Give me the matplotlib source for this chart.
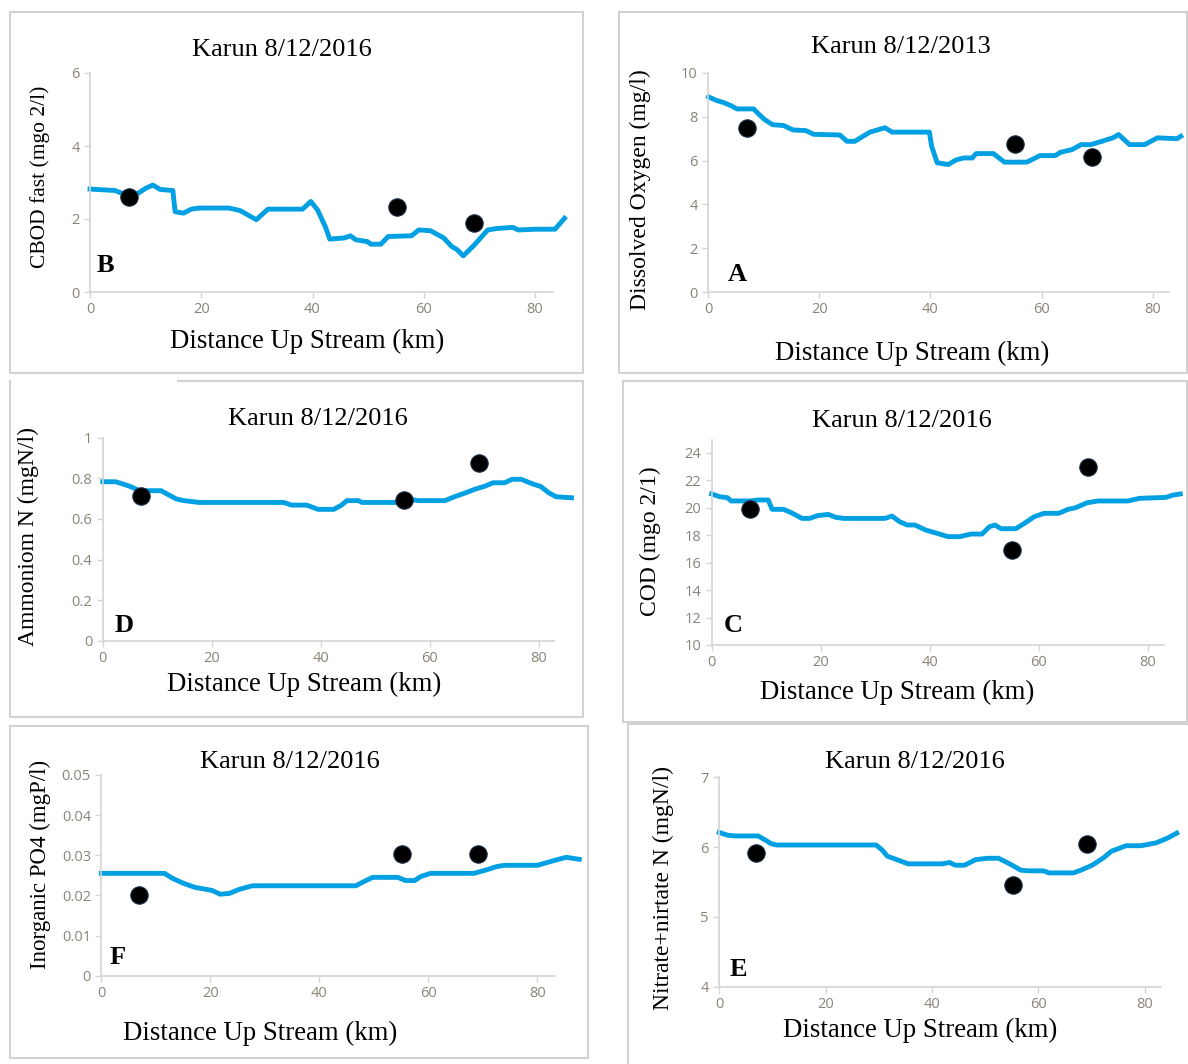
import numpy as np
import matplotlib
matplotlib.use('Agg')
import matplotlib.pyplot as plt
from matplotlib.lines import Line2D

W, H = 1188, 1064

# measured stations (km) shared by all panels
station_km = [7.0, 55.2, 69.1]

# B - CBOD fast
cbod_x = [0, 4.5, 6.5, 8.6, 10, 11.3, 12.6, 14.9, 15.3, 16.8, 18.2, 19.6, 25, 27, 29.9, 32, 38.2,
          39.7, 40.9, 42.3, 43.1, 45.7, 46.8, 47.8, 49.9, 50.5, 52.3, 53.6, 57.8, 59.1, 61.2, 63.6,
          65, 66, 67.1, 69.1, 71.5, 73.2, 76, 77, 80.1, 83.6, 85.3]
cbod_y = [2.82, 2.78, 2.66, 2.70, 2.84, 2.93, 2.81, 2.78, 2.20, 2.16, 2.27, 2.30, 2.30, 2.23, 1.98,
          2.27, 2.27, 2.48, 2.25, 1.79, 1.45, 1.48, 1.54, 1.43, 1.38, 1.31, 1.31, 1.52, 1.54, 1.70,
          1.68, 1.48, 1.25, 1.16, 0.99, 1.29, 1.70, 1.74, 1.77, 1.70, 1.72, 1.72, 2.02]
cbod_obs = [2.6, 2.34, 1.89]

# A - dissolved oxygen
do_x = [0.1, 1.5, 2.8, 4.2, 5.2, 8.2, 9.2, 10.2, 11.6, 13.6, 15.3, 17.6, 19, 23.7, 25, 26.4, 29.1,
        31.8, 33.1, 39.8, 40.2, 41.2, 43.2, 44.5, 45.9, 47.5, 48.2, 51.3, 53.3, 57.3, 59.7, 62.4,
        63.4, 65.4, 67.1, 68.8, 70.8, 72.8, 73.8, 74.8, 75.8, 78.5, 80.2, 80.8, 84.3, 85]
do_y = [8.91, 8.75, 8.65, 8.5, 8.36, 8.36, 8.1, 7.87, 7.64, 7.6, 7.4, 7.37, 7.2, 7.17, 6.88, 6.88,
        7.3, 7.5, 7.3, 7.3, 6.66, 5.9, 5.82, 6.02, 6.12, 6.12, 6.32, 6.32, 5.93, 5.93, 6.23, 6.23,
        6.38, 6.5, 6.73, 6.73, 6.88, 7.04, 7.19, 6.96, 6.73, 6.73, 6.96, 7.04, 7.0, 7.11]
do_obs = [7.49, 6.78, 6.17]

# D - ammonium
nh4_x = [0, 2.3, 3.7, 5.1, 6.5, 7.9, 10.7, 12.1, 13.5, 14.9, 17.7, 33.2, 34.6, 37.4, 39.5, 42.4,
         43.8, 44.8, 46.9, 47.6, 55, 56.4, 57.9, 62.8, 64.5, 66.3, 68.4, 70.2, 71.6, 73.7, 75.1,
         76.8, 78.6, 80.4, 81.8, 83.2, 86]
nh4_y = [0.783, 0.783, 0.772, 0.759, 0.742, 0.739, 0.739, 0.718, 0.698, 0.690, 0.681, 0.681, 0.668,
         0.668, 0.647, 0.647, 0.668, 0.690, 0.690, 0.681, 0.681, 0.696, 0.690, 0.690, 0.709, 0.726,
         0.747, 0.762, 0.778, 0.778, 0.795, 0.795, 0.775, 0.759, 0.729, 0.709, 0.704]
nh4_obs = [0.713, 0.693, 0.874]

# C - COD
cod_x = [0, 1.5, 2.9, 3.6, 7, 8.4, 10.4, 11.1, 13.2, 14.6, 16.6, 18, 19.4, 21.4, 22.8, 24.2, 31.8,
         33.1, 34.5, 35.9, 37.3, 39.3, 41.4, 43.4, 45.5, 47.6, 49.6, 51, 52, 53.1, 55.8, 57.2, 59.2,
         61, 63.7, 65.4, 66.8, 68.9, 70.9, 76.4, 78.5, 83.3, 84.7, 86]
cod_y = [21.0, 20.8, 20.73, 20.49, 20.49, 20.56, 20.56, 19.88, 19.88, 19.64, 19.22, 19.22, 19.42,
         19.51, 19.3, 19.22, 19.22, 19.39, 18.98, 18.74, 18.74, 18.37, 18.13, 17.89, 17.89, 18.08,
         18.08, 18.62, 18.74, 18.47, 18.47, 18.81, 19.34, 19.59, 19.59, 19.88, 20.0, 20.36, 20.49,
         20.49, 20.68, 20.75, 20.92, 21.0]
cod_obs = [19.88, 16.94, 22.93]

# F - inorganic PO4
po4_x = [0, 11.6, 13, 15.1, 17.2, 19.3, 20.4, 21.8, 23.5, 25.3, 27.7, 46.7, 48.1, 49.8, 54.4, 55.8,
         57.5, 58.6, 60.4, 68.4, 70.5, 72.6, 74, 80, 81.8, 83.9, 85.3, 87.7]
po4_y = [0.0255, 0.0255, 0.0243, 0.0230, 0.0220, 0.0215, 0.0212, 0.0203, 0.0205, 0.0215, 0.0224,
         0.0224, 0.0234, 0.0245, 0.0245, 0.0237, 0.0237, 0.0247, 0.0255, 0.0255, 0.0263, 0.0272,
         0.0275, 0.0275, 0.0282, 0.0290, 0.0295, 0.0290]
po4_obs = [0.0202, 0.0303, 0.0303]

# E - nitrate + nitrite
no3_x = [0, 1.6, 3, 7.3, 8.7, 9.7, 10.8, 29.5, 30.6, 31.6, 33.4, 35.5, 41.9, 43.3, 44.4, 46.1, 48.2,
         50.4, 52.5, 54.6, 56.7, 58.1, 61, 62, 66.6, 68, 70.1, 72.3, 73.7, 75.1, 76.5, 79.3, 82.1,
         84.3, 86]
no3_y = [6.21, 6.17, 6.16, 6.16, 6.10, 6.05, 6.03, 6.03, 5.96, 5.87, 5.82, 5.76, 5.76, 5.78, 5.74,
         5.74, 5.82, 5.84, 5.84, 5.76, 5.67, 5.66, 5.66, 5.63, 5.63, 5.67, 5.74, 5.85, 5.94, 5.98,
         6.02, 6.02, 6.06, 6.13, 6.20]
no3_obs = [5.91, 5.46, 6.05]

LINE_C = '#00a0e3'
SERIF = 'Liberation Serif'
TICK_C = '#8a8478'
AX_C = '#d4d4d4'
BOX_C = '#d2d2d2'


def fx(px):
    return px / W


def fy(py):
    return 1 - py / H


fig = plt.figure(figsize=(W / 100, H / 100), dpi=100)
fig.patch.set_facecolor('white')


def box(x0, y0, x1, y1, top_from=None):
    xs = [x0, x1, x1, x0, x0]
    ys = [y0, y0, y1, y1, y0]
    fig.add_artist(Line2D([fx(v) for v in xs[1:]], [fy(v) for v in ys[1:]],
                          color=BOX_C, lw=1.5, transform=fig.transFigure))
    tx0 = x0 if top_from is None else top_from
    fig.add_artist(Line2D([fx(tx0), fx(x1)], [fy(y0), fy(y0)],
                          color=BOX_C, lw=1.5, transform=fig.transFigure))


def panel(rect, xend, ylim, yticks, x, y, obs, title, tpos, xlabel_pos, ylabel, ypos, yfs,
          letter, lpos):
    left, right, top, bottom = rect
    ax = fig.add_axes([fx(left), fy(bottom), (right - left) / W, (bottom - top) / H])
    ax.set_facecolor('none')
    ax.plot(x, y, color=LINE_C, lw=3.5, clip_on=False, zorder=2)
    ax.plot(station_km, obs, 'o', color='black', ms=12.5, mec='#1a2a40', mew=0.8,
            clip_on=False, zorder=3)
    ax.set_xlim(0, xend)
    ax.set_ylim(*ylim)
    ax.set_xticks([0, 20, 40, 60, 80])
    ax.set_yticks(yticks)
    ax.set_yticklabels([f'{v:g}' for v in yticks])
    for s in ['top', 'right']:
        ax.spines[s].set_visible(False)
    for s in ['left', 'bottom']:
        ax.spines[s].set_color(AX_C)
        ax.spines[s].set_linewidth(1.2)
    ax.tick_params(colors=AX_C, length=4, width=1, labelcolor=TICK_C, labelsize=10.5)
    for lab in ax.get_xticklabels() + ax.get_yticklabels():
        lab.set_family('Open Sans')
    fig.text(fx(tpos[0]), fy(tpos[1]), title, family=SERIF, fontsize=19,
             ha='center', va='center')
    fig.text(fx(xlabel_pos[0]), fy(xlabel_pos[1]), 'Distance Up Stream (km)', family=SERIF,
             fontsize=19.3, ha='center', va='center')
    fig.text(fx(ypos[0]), fy(ypos[1]), ylabel, family=SERIF, fontsize=yfs, rotation=90,
             ha='center', va='center')
    fig.text(fx(lpos[0]), fy(lpos[1]), letter, family=SERIF, fontsize=19, weight='bold',
             ha='center', va='center')
    return ax


# panel frames
box(10, 12, 583, 373)
box(619, 12, 1187, 373)
box(10, 381, 583, 717, top_from=178)
box(623, 381, 1187, 722)
box(10, 726, 588, 1058)
fig.add_artist(Line2D([fx(628), fx(628), fx(1187)], [fy(1064), fy(724), fy(724)],
                      color=BOX_C, lw=1.5, transform=fig.transFigure))

panel((90, 90 + 83.2 * 5.5625, 73, 292), 83.2, (0, 6), [0, 2, 4, 6], cbod_x, cbod_y, cbod_obs,
      'Karun 8/12/2016', (282, 50), (307, 341), 'CBOD fast (mgo 2/l)', (40, 177), 15.5,
      'B', (105, 265))
panel((708, 708 + 82.9 * 5.5625, 73, 292), 82.9, (0, 10), [0, 2, 4, 6, 8, 10], do_x, do_y, do_obs,
      'Karun 8/12/2013', (901, 47), (912, 353), 'Dissolved Oxygen (mg/l)', (640, 190), 17,
      'A', (737, 275))
panel((102.8, 102.8 + 82.8 * 5.45, 437.7, 640.7), 82.8, (0, 1), [0, 0.2, 0.4, 0.6, 0.8, 1],
      nh4_x, nh4_y, nh4_obs, 'Karun 8/12/2016', (318, 419), (304, 684), 'Ammoniom N (mgN/l)',
      (28, 537), 17, 'D', (124, 625))
panel((711.6, 711.6 + 83 * 5.45, 440, 645), 83, (10, 24.93), [10, 12, 14, 16, 18, 20, 22, 24],
      cod_x, cod_y, cod_obs, 'Karun 8/12/2016', (902, 421), (897, 692), 'COD (mgo 2/1)',
      (650, 541), 17, 'C', (733, 625))
panel((101.3, 101.3 + 83.2 * 5.45, 775, 975.7), 83.2, (0, 0.05),
      [0, 0.01, 0.02, 0.03, 0.04, 0.05], po4_x, po4_y, po4_obs, 'Karun 8/12/2016', (290, 762),
      (260, 1033), 'Inorganic PO4 (mgP/l)', (40, 864), 16.5, 'F', (118, 957))
panel((719.2, 719.2 + 83 * 5.32, 777.3, 986.7), 83, (4, 7), [4, 5, 6, 7], no3_x, no3_y, no3_obs,
      'Karun 8/12/2016', (915, 762), (920, 1030), 'Nitrate+nirtate N (mgN/l)', (663, 888), 17,
      'E', (738, 970))

fig.savefig('out.png', dpi=100, facecolor='white')
